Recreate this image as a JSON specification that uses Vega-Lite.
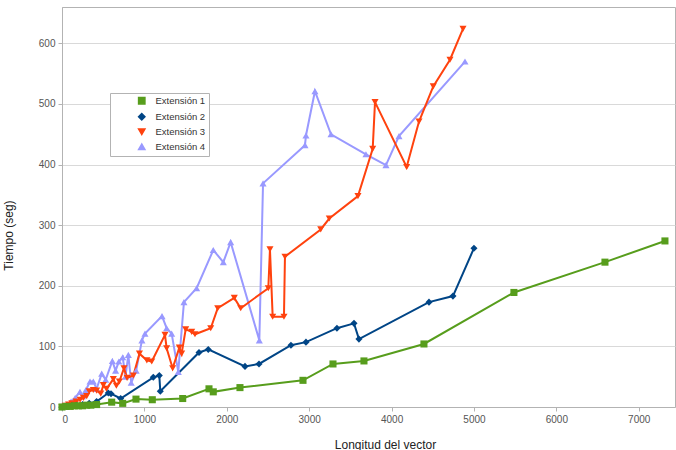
{
  "$schema": "https://vega.github.io/schema/vega-lite/v6.json",
  "width": 613,
  "height": 400,
  "autosize": {"type": "none"},
  "padding": {"left": 62, "top": 7, "right": 1, "bottom": 43},
  "background": "white",
  "config": {
    "font": "Liberation Sans",
    "view": {"stroke": "#b3b3b3", "strokeWidth": 1},
    "axis": {
      "labelFont": "Liberation Sans",
      "labelFontSize": 10,
      "labelColor": "#555555",
      "titleFont": "Liberation Sans",
      "titleFontSize": 12,
      "titleFontWeight": "normal",
      "titleColor": "#222222",
      "domainColor": "#b3b3b3",
      "tickColor": "#b3b3b3",
      "gridColor": "#d9d9d9",
      "tickSize": 4
    },
    "legend": {
      "orient": "none", "legendX": 48, "legendY": 86,
      "padding": 3, "strokeColor": "#b3b3b3", "fillColor": "white",
      "labelFont": "Liberation Sans", "labelFontSize": 9.5, "labelColor": "#333333",
      "symbolSize": 40, "rowPadding": 3, "labelOffset": 9, "symbolOffset": 24, "titlePadding": 0,
      "labelExpr": "datum.label + '\u00a0\u00a0\u00a0\u00a0\u00a0\u00a0\u00a0'"
    }
  },
  "data": {
    "values": [
      {"s": "Extensión 4", "x": 0, "y": 0}, {"s": "Extensión 4", "x": 60, "y": 4}, {"s": "Extensión 4", "x": 110, "y": 9}, {"s": "Extensión 4", "x": 160, "y": 15}, {"s": "Extensión 4", "x": 218, "y": 25}, {"s": "Extensión 4", "x": 250, "y": 18}, {"s": "Extensión 4", "x": 290, "y": 28}, {"s": "Extensión 4", "x": 340, "y": 42}, {"s": "Extensión 4", "x": 380, "y": 42}, {"s": "Extensión 4", "x": 420, "y": 30}, {"s": "Extensión 4", "x": 482, "y": 55}, {"s": "Extensión 4", "x": 530, "y": 45}, {"s": "Extensión 4", "x": 611, "y": 76}, {"s": "Extensión 4", "x": 650, "y": 60}, {"s": "Extensión 4", "x": 690, "y": 75}, {"s": "Extensión 4", "x": 737, "y": 82}, {"s": "Extensión 4", "x": 770, "y": 50}, {"s": "Extensión 4", "x": 805, "y": 86}, {"s": "Extensión 4", "x": 840, "y": 40}, {"s": "Extensión 4", "x": 900, "y": 60}, {"s": "Extensión 4", "x": 970, "y": 110}, {"s": "Extensión 4", "x": 1007, "y": 121}, {"s": "Extensión 4", "x": 1214, "y": 150}, {"s": "Extensión 4", "x": 1270, "y": 130}, {"s": "Extensión 4", "x": 1331, "y": 121}, {"s": "Extensión 4", "x": 1411, "y": 58}, {"s": "Extensión 4", "x": 1480, "y": 173}, {"s": "Extensión 4", "x": 1634, "y": 196}, {"s": "Extensión 4", "x": 1836, "y": 259}, {"s": "Extensión 4", "x": 1958, "y": 239}, {"s": "Extensión 4", "x": 2047, "y": 272}, {"s": "Extensión 4", "x": 2395, "y": 110}, {"s": "Extensión 4", "x": 2440, "y": 369}, {"s": "Extensión 4", "x": 2949, "y": 432}, {"s": "Extensión 4", "x": 2961, "y": 448}, {"s": "Extensión 4", "x": 3070, "y": 521}, {"s": "Extensión 4", "x": 3265, "y": 450}, {"s": "Extensión 4", "x": 3689, "y": 417}, {"s": "Extensión 4", "x": 3932, "y": 399}, {"s": "Extensión 4", "x": 4090, "y": 447}, {"s": "Extensión 4", "x": 4891, "y": 570},
      {"s": "Extensión 3", "x": 0, "y": 0}, {"s": "Extensión 3", "x": 40, "y": 2}, {"s": "Extensión 3", "x": 80, "y": 4}, {"s": "Extensión 3", "x": 120, "y": 6}, {"s": "Extensión 3", "x": 170, "y": 9}, {"s": "Extensión 3", "x": 220, "y": 12}, {"s": "Extensión 3", "x": 260, "y": 15}, {"s": "Extensión 3", "x": 300, "y": 18}, {"s": "Extensión 3", "x": 330, "y": 26}, {"s": "Extensión 3", "x": 380, "y": 28}, {"s": "Extensión 3", "x": 420, "y": 27}, {"s": "Extensión 3", "x": 470, "y": 22}, {"s": "Extensión 3", "x": 502, "y": 36}, {"s": "Extensión 3", "x": 540, "y": 30}, {"s": "Extensión 3", "x": 623, "y": 46}, {"s": "Extensión 3", "x": 660, "y": 35}, {"s": "Extensión 3", "x": 696, "y": 42}, {"s": "Extensión 3", "x": 752, "y": 64}, {"s": "Extensión 3", "x": 790, "y": 48}, {"s": "Extensión 3", "x": 866, "y": 52}, {"s": "Extensión 3", "x": 940, "y": 88}, {"s": "Extensión 3", "x": 1030, "y": 77}, {"s": "Extensión 3", "x": 1089, "y": 75}, {"s": "Extensión 3", "x": 1250, "y": 119}, {"s": "Extensión 3", "x": 1270, "y": 97}, {"s": "Extensión 3", "x": 1343, "y": 64}, {"s": "Extensión 3", "x": 1424, "y": 98}, {"s": "Extensión 3", "x": 1452, "y": 88}, {"s": "Extensión 3", "x": 1501, "y": 128}, {"s": "Extensión 3", "x": 1574, "y": 124}, {"s": "Extensión 3", "x": 1614, "y": 120}, {"s": "Extensión 3", "x": 1805, "y": 130}, {"s": "Extensión 3", "x": 1890, "y": 163}, {"s": "Extensión 3", "x": 2091, "y": 180}, {"s": "Extensión 3", "x": 2169, "y": 163}, {"s": "Extensión 3", "x": 2504, "y": 196}, {"s": "Extensión 3", "x": 2524, "y": 260}, {"s": "Extensión 3", "x": 2557, "y": 149}, {"s": "Extensión 3", "x": 2694, "y": 149}, {"s": "Extensión 3", "x": 2706, "y": 248}, {"s": "Extensión 3", "x": 3140, "y": 293}, {"s": "Extensión 3", "x": 3244, "y": 311}, {"s": "Extensión 3", "x": 3592, "y": 348}, {"s": "Extensión 3", "x": 3771, "y": 426}, {"s": "Extensión 3", "x": 3799, "y": 503}, {"s": "Extensión 3", "x": 4183, "y": 396}, {"s": "Extensión 3", "x": 4333, "y": 471}, {"s": "Extensión 3", "x": 4506, "y": 529}, {"s": "Extensión 3", "x": 4709, "y": 573}, {"s": "Extensión 3", "x": 4867, "y": 624},
      {"s": "Extensión 2", "x": 0, "y": 0}, {"s": "Extensión 2", "x": 60, "y": 1}, {"s": "Extensión 2", "x": 120, "y": 2}, {"s": "Extensión 2", "x": 180, "y": 3}, {"s": "Extensión 2", "x": 250, "y": 4}, {"s": "Extensión 2", "x": 330, "y": 6}, {"s": "Extensión 2", "x": 420, "y": 9}, {"s": "Extensión 2", "x": 562, "y": 23}, {"s": "Extensión 2", "x": 595, "y": 22}, {"s": "Extensión 2", "x": 712, "y": 14}, {"s": "Extensión 2", "x": 1108, "y": 49}, {"s": "Extensión 2", "x": 1181, "y": 52}, {"s": "Extensión 2", "x": 1193, "y": 26}, {"s": "Extensión 2", "x": 1663, "y": 90}, {"s": "Extensión 2", "x": 1775, "y": 95}, {"s": "Extensión 2", "x": 2221, "y": 67}, {"s": "Extensión 2", "x": 2391, "y": 71}, {"s": "Extensión 2", "x": 2779, "y": 102}, {"s": "Extensión 2", "x": 2961, "y": 107}, {"s": "Extensión 2", "x": 3337, "y": 130}, {"s": "Extensión 2", "x": 3544, "y": 138}, {"s": "Extensión 2", "x": 3604, "y": 112}, {"s": "Extensión 2", "x": 4454, "y": 173}, {"s": "Extensión 2", "x": 4745, "y": 183}, {"s": "Extensión 2", "x": 5000, "y": 262},
      {"s": "Extensión 1", "x": 0, "y": 0}, {"s": "Extensión 1", "x": 50, "y": 1}, {"s": "Extensión 1", "x": 100, "y": 1}, {"s": "Extensión 1", "x": 150, "y": 2}, {"s": "Extensión 1", "x": 200, "y": 2}, {"s": "Extensión 1", "x": 250, "y": 2}, {"s": "Extensión 1", "x": 300, "y": 3}, {"s": "Extensión 1", "x": 350, "y": 3}, {"s": "Extensión 1", "x": 420, "y": 4}, {"s": "Extensión 1", "x": 603, "y": 8}, {"s": "Extensión 1", "x": 737, "y": 6}, {"s": "Extensión 1", "x": 898, "y": 13}, {"s": "Extensión 1", "x": 1096, "y": 12}, {"s": "Extensión 1", "x": 1465, "y": 14}, {"s": "Extensión 1", "x": 1784, "y": 30}, {"s": "Extensión 1", "x": 1836, "y": 25}, {"s": "Extensión 1", "x": 2160, "y": 32}, {"s": "Extensión 1", "x": 2925, "y": 44}, {"s": "Extensión 1", "x": 3289, "y": 71}, {"s": "Extensión 1", "x": 3665, "y": 76}, {"s": "Extensión 1", "x": 4393, "y": 104}, {"s": "Extensión 1", "x": 5485, "y": 189}, {"s": "Extensión 1", "x": 6590, "y": 239}, {"s": "Extensión 1", "x": 7318, "y": 274}
    ]
  },
  "encoding": {
    "x": {
      "field": "x", "type": "quantitative",
      "scale": {"domain": [0, 7440], "nice": false, "zero": true},
      "axis": {"title": "Longitud del vector", "format": "d", "values": [0, 1000, 2000, 3000, 4000, 5000, 6000, 7000], "grid": false, "labelPadding": 3, "titleX": 323, "titleY": 41, "titleBaseline": "alphabetic"}
    },
    "y": {
      "field": "y", "type": "quantitative",
      "scale": {"domain": [0, 660], "nice": false},
      "axis": {"title": "Tiempo (seg)", "format": "d", "values": [0, 100, 200, 300, 400, 500, 600], "grid": true, "labelPadding": 3, "titleX": -47, "titleY": 228}
    },
    "color": {
      "field": "s", "type": "nominal", "title": null,
      "scale": {"domain": ["Extensión 1", "Extensión 2", "Extensión 3", "Extensión 4"], "range": ["#579d1c", "#004586", "#ff420e", "#9999ff"]}
    }
  },
  "layer": [
    {
      "mark": {"type": "line", "strokeWidth": 2},
      "encoding": {"detail": {"field": "s"}}
    },
    {
      "mark": {"type": "point", "filled": true, "opacity": 1, "size": 50},
      "encoding": {
        "shape": {
          "field": "s", "type": "nominal", "title": null,
          "scale": {"domain": ["Extensión 1", "Extensión 2", "Extensión 3", "Extensión 4"], "range": ["square", "diamond", "triangle-down", "triangle-up"]}
        }
      }
    }
  ]
}
